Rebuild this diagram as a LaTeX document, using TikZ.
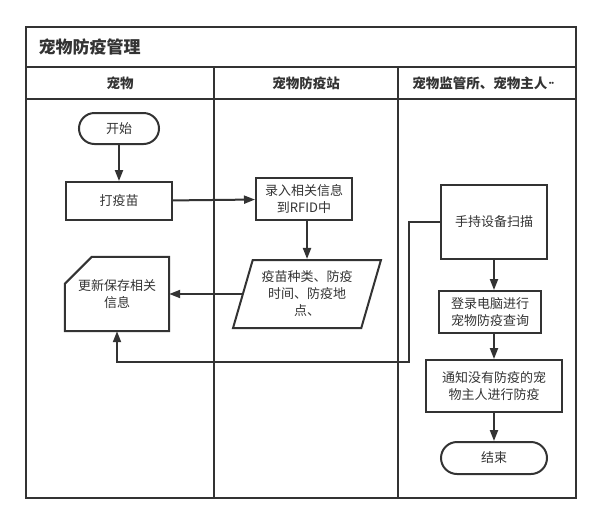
\documentclass[tikz,border=0pt]{standalone}
\usepackage{fontspec}
\setmainfont{Noto Sans CJK SC}
\usetikzlibrary{arrows.meta,positioning,shapes.geometric,calc}
\definecolor{linegray}{RGB}{51,51,51}

\begin{document}
\begin{tikzpicture}[x=1pt,y=-1pt,node distance=30pt,
    every node/.style={font=\fontsize{13}{17}\selectfont,text=linegray,align=center}]
  \tikzstyle{lane}=[draw=linegray,line width=2pt]
  \tikzstyle{process}=[draw=linegray,line width=2pt,rectangle,inner sep=2pt]
  \tikzstyle{terminal}=[process,rounded corners=15.5pt]
  \tikzstyle{io}=[process,trapezium,trapezium left angle=71,trapezium right angle=109,
                  trapezium stretches=true]
  \tikzstyle{flow}=[draw=linegray,line width=2pt,-{Triangle[length=11pt,width=8pt]}]
  \tikzstyle{head}=[font=\fontsize{13.5}{16}\selectfont\bfseries]

  \useasboundingbox (0,0) rectangle (600,523);

  % pool and lanes
  \draw[lane] (26,27) rectangle (576,498);
  \draw[lane] (26,67) -- (576,67);
  \draw[lane] (26,99) -- (576,99);
  \draw[lane] (214,67) -- (214,498);
  \draw[lane] (398,67) -- (398,498);

  \node[anchor=west,font=\fontsize{17}{20}\selectfont\bfseries] (title) at (35,47) {宠物防疫管理};
  \node[head] (petHead) at (120,83) {宠物};
  \node[head] (stationHead) at (306,83) {宠物防疫站};
  \node[head] (ownerHead) at (484,83) {宠物监管所、宠物主人{\fontsize{20}{20}\selectfont$\cdot\!\cdot$}};

  % pet lane
  \node[terminal,minimum width=80pt,minimum height=31pt] (start) at (119,128.5) {开始};
  \node[process,minimum width=106pt,minimum height=38pt] (vacc) [below=36pt of start] {打疫苗};
  \node[minimum width=104pt,minimum height=74pt] (upd) at (117,294) {更新保存相关\\信息};
  \draw[lane] ($(upd.north west)+(27pt,0pt)$) -- (upd.north east) -- (upd.south east)
     -- (upd.south west) -- ($(upd.north west)+(0pt,-27pt)$) -- cycle;

  % station lane
  \node[process,minimum width=96pt,minimum height=42pt] (record) at (304,199) {录入相关信息\\到RFID中};
  \node[io,minimum width=148pt,minimum height=68pt] (data) at (307,294) {疫苗种类、防疫\\时间、防疫地\\点、};

  % supervisor / owner lane
  \node[process,minimum width=106pt,minimum height=74pt] (scan) at (494,222) {手持设备扫描};
  \node[process,minimum width=102pt,minimum height=42pt] (login) at (490,312) {登录电脑进行\\宠物防疫查询};
  \node[process,minimum width=136pt,minimum height=52pt] (notify) at (494,386) {通知没有防疫的宠\\物主人进行防疫};
  \node[terminal,minimum width=106pt,minimum height=32pt,rounded corners=16pt] (stop) at (494,458) {结束};
  \coordinate (bend) at (409,362);

  \draw[flow] (start) -- (vacc);
  \draw[flow] (vacc) -- (record);
  \draw[flow] (record.south -| data.north) -- (data.north);
  \draw[flow] (data.west) -- (data.west -| upd.east);
  \draw[flow] (scan.south) -- (scan.south |- login.north);
  \draw[flow] (login.south -| scan.south) -- (notify.north -| scan.south);
  \draw[flow] (notify.south -| scan.south) -- (stop.north -| scan.south);
  \draw[flow] (scan.west) -| (bend) -| (upd.south);
\end{tikzpicture}
\end{document}
